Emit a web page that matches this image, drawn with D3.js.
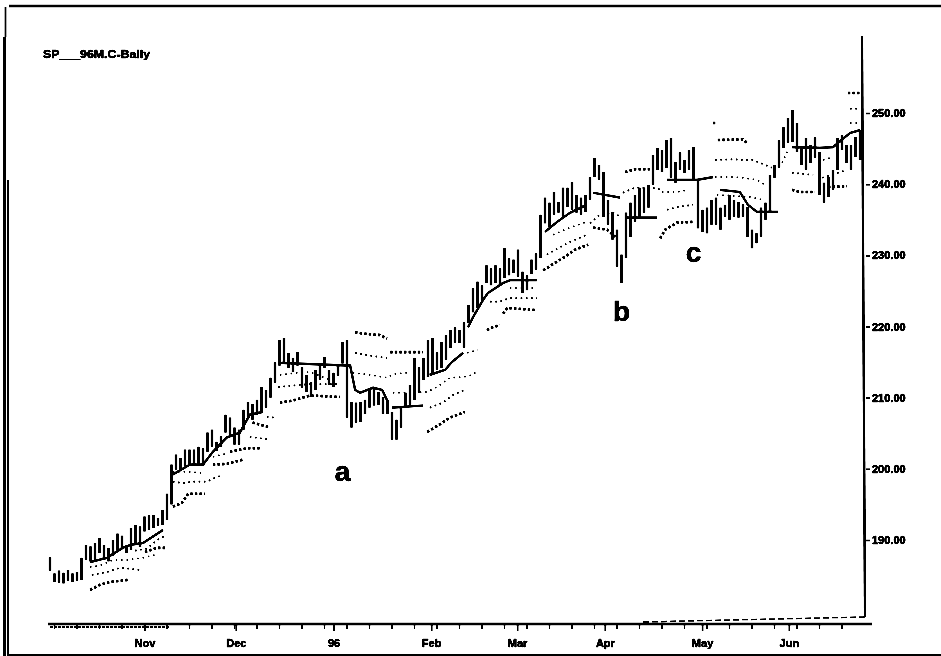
<!DOCTYPE html>
<html><head><meta charset="utf-8">
<style>html,body{margin:0;padding:0;background:#fff}svg{display:block}
text{font-family:"Liberation Sans",Arial,sans-serif;font-weight:700;fill:#000;stroke:#000;stroke-width:0.35px}</style>
<script src="https://cdn.jsdelivr.net/npm/d3@7"></script></head><body><div id="c"></div>
<script>
const title="SP___96M.C-Bally";
const priceTicks=[190,200,210,220,230,240,250];
const monthBars=[21,41.3,63,84.7,103.8,123.3,144.9,164.2];
const monthLabels=["Nov","Dec","96","Feb","Mar","Apr","May","Jun"];
const barHigh=[187.6,185.3,185.7,185.4,185.8,185.3,185.5,187.5,189.3,189.1,189.6,190.3,189.3,188.9,190.0,190.9,190.6,189.2,191.7,192.1,191.9,193.3,193.5,193.5,193.1,194.2,196.5,200.6,202.0,201.5,202.7,202.7,202.7,203.1,202.9,205.1,205.5,203.8,204.6,207.6,207.2,205.8,205.5,208.3,209.4,209.1,209.7,211.5,211.1,212.8,215.0,218.1,218.4,216.3,215.6,216.4,214.3,213.2,212.2,213.9,214.6,215.7,213.9,213.5,214.6,217.8,218.1,209.4,209.3,209.4,209.7,211.1,211.4,210.8,210.1,209.7,208.0,206.9,208.6,210.7,211.8,215.6,214.3,215.6,218.1,218.4,216.4,217.8,218.8,219.5,219.9,219.5,220.6,223.0,225.4,226.3,225.8,228.6,228.2,228.6,228.2,231.0,229.6,229.4,230.8,227.7,227.2,229.4,230.3,235.7,238.1,237.4,238.9,237.5,239.5,239.5,240.3,238.5,238.1,238.5,241.0,243.7,242.7,241.7,237.8,236.1,233.6,230.1,236.0,237.4,238.5,239.5,239.5,239.9,244.1,245.1,244.8,246.2,246.5,243.1,244.5,243.4,244.8,245.2,240.6,236.4,236.7,237.8,238.1,236.7,237.1,238.5,237.8,237.5,237.2,236.8,233.6,233.1,236.7,237.4,241.3,242.7,246.2,248.0,249.3,250.4,248.6,245.2,246.5,245.5,246.6,244.5,240.2,241.0,242.0,246.5,246.9,245.5,245.5,246.6,247.6];
const barLow=[185.7,184.1,184.0,183.9,184.3,184.1,184.3,184.4,187.2,187.0,187.2,188.2,187.2,187.0,187.8,188.6,188.8,188.2,188.6,189.6,189.0,191.2,191.4,191.7,192.0,192.1,192.8,195.0,199.9,199.7,200.4,200.6,200.4,200.6,200.4,202.4,203.1,202.5,203.1,205.1,204.8,203.4,203.4,205.5,207.2,206.9,207.6,208.0,208.6,210.0,212.1,214.5,214.9,214.2,213.6,214.5,211.4,210.8,210.1,211.1,212.5,214.2,211.8,211.5,213.1,214.8,207.2,205.8,206.5,206.6,207.7,208.6,208.9,209.0,207.7,207.7,204.1,204.1,205.8,208.6,209.0,209.7,210.7,212.5,212.9,213.2,213.9,214.2,215.3,217.0,217.7,217.7,217.0,220.5,222.0,222.6,223.7,226.1,225.8,226.1,225.8,226.8,227.2,227.5,227.0,224.7,225.1,227.4,228.0,229.6,234.5,234.0,235.7,236.0,235.4,236.8,236.4,236.0,235.7,236.1,237.8,241.0,240.6,235.4,234.3,232.2,228.4,226.1,229.6,232.6,234.7,235.4,236.0,236.7,239.9,242.0,241.7,242.3,240.9,240.2,242.0,241.6,242.0,240.6,233.8,233.3,233.1,234.3,234.3,233.6,235.4,235.0,235.4,235.3,235.4,232.6,231.0,231.7,232.6,235.0,236.1,240.9,242.3,245.1,245.8,245.9,244.5,242.7,242.0,243.0,243.7,238.5,237.4,238.2,239.2,242.0,244.8,243.0,242.0,243.8,243.4];
const centerLine=[[8.9,186.9],[12.7,187.5],[16.2,188.9],[17.8,189.3],[20.7,189.6],[25.1,191.4],null,
[27.3,199.2],[31.1,200.6],[34,200.6],[36.2,202.4],[39.3,204.4],[42.2,205.1],[44.4,207.6],[47.3,208.0],null,
[51,214.9],[66.7,214.5],[67.8,211.1],[68.9,210.7],[71.8,211.4],[73.8,211.1],[75.1,209.4],null,
[76,208.6],[82.9,208.9],null,[84.4,213.2],[87.8,213.9],[89.3,215.0],[91.8,216.3],null,
[92.9,219.9],[94,221.3],[96.2,223.7],[97.3,224.7],[100.7,226.1],[102.2,226.5],[108.2,226.5],null,
[110,233.3],[112.7,234.7],[115.6,236.0],[119.3,237.1],null,[120.7,238.8],[126.7,238.1],null,
[127.8,235.3],[134.9,235.3],null,[137.1,240.6],[143.8,240.6],[147.3,241.0],null,
[148.9,239.2],[153.3,238.9],[155.1,237.1],[157.1,236.1],[161.8,236.1],null,
[164.9,245.2],[171.1,245.1],[174,245.2],[177.8,247.2],[180,247.6]];
const bandOuter=[[8.9,183.0],[11.1,183.7],[13.3,184.1],[17.3,184.4],null,[21.1,188.3],[23.8,188.9],[25.6,188.9],null,
[27.3,194.7],[29.3,195.2],[30.7,196.5],[34.4,196.5],null,[36.2,200.6],[39.3,200.7],[42.9,201.3],null,
[40,202.4],[43.8,202.9],[46.7,202.9],null,[45,206.5],[48.9,205.8],null,[51.1,209.3],[54,209.6],[57.8,210.3],[64.4,210.1],null,
[67.8,219.2],[69.6,219.0],[73.3,218.8],[74.9,218.3],null,[75.6,216.4],[82.9,216.4],null,
[83.8,205.2],[86,206.0],[88.9,207.2],[92.2,208.0],null,[97.1,219.5],[98.4,219.9],[100,220.2],null,
[100.7,221.8],[101.6,222.6],[108.2,222.3],null,[109.6,227.9],[114.4,229.8],[116.7,230.8],[119.6,231.5],null,
[120.7,233.9],[123.8,233.6],[125.6,232.6],null,[127.8,241.7],[130,242.1],[133.3,242.1],null,
[135.6,232.4],[136.7,233.6],[139.3,234.6],[142.9,234.7],null,[147.3,248.6],[147.9,248.6],null,[148.4,246.2],[154,246.3],[154.9,245.8],null,
[164.9,239.2],[166.7,238.9],[170,238.9],null,[172.9,239.6],[177.1,239.7],null,[177.3,252.8],[180,252.8]];
const bandMiddle=[[9.3,185.1],[12.7,185.5],[15.6,186.1],[20,185.8],null,[18.9,188.5],[21.6,188.8],[23.8,190.0],[25.6,190.6],null,
[27.3,198.2],[29.6,198.0],[31.6,198.2],[34.9,198.2],[37.1,198.9],[38.2,199.0],null,[44.4,204.5],[48.9,204.1],null,[48.2,207.3],[50,207.2],null,
[50.7,211.5],[55.6,211.8],[57.8,211.9],[64.4,211.9],null,[67.8,216.3],[71.1,215.9],[74.9,215.6],null,
[84.4,208.6],[87.3,209.3],[89.6,210.4],[92.2,211.1],null,[97.8,223.5],[100,223.5],[102.2,224.0],[108.2,224.0],null,
[110.4,230.1],[114.9,231.7],[119.3,232.9],null,[120,234.5],[122.2,235.7],[125.1,236.0],[127.1,235.3],null,
[127.3,238.8],[130,239.5],[133.8,239.5],[136,239.2],null,[137.1,236.4],[139.6,236.8],[142.9,237.1],null,
[147.8,243.4],[151.8,243.5],[154,243.4],[156.2,243.4],[157.8,243.0],[160.4,242.3],null,
[164.9,241.6],[169.6,241.3],null,[171.6,240.9],[177.1,242.0],null,[177.8,250.6],[179.6,250.6]];
const bandInner=[[8.9,186.2],[11.1,186.4],[14,187.2],[17.1,187.2],[20.7,187.5],[23.3,187.9],null,
[27.3,199.6],[30.4,199.6],[34,199.4],null,[36.2,201.7],[39.5,202.2],null,[51.1,213.2],[54.9,213.5],[57.8,213.6],[63.8,212.1],null,
[67.3,213.5],[71.1,213.2],[74.9,212.8],[76.2,213.3],[79.3,213.5],null,
[76.2,210.7],[79.3,210.7],[83.8,210.8],[86,211.5],[88.9,212.8],[91.8,212.9],[94,213.2],[95.1,213.9],null,
[92.7,216.3],[95.1,216.7],null,[102.2,225.4],[108.2,225.4],null,[111.8,232.9],[115.6,233.9],[119.3,234.7],null,
[136,238.9],[139.3,238.9],[141.8,239.2],null,[147.8,241.0],[151.8,241.0],[154,240.9],[157.1,240.6],[158.9,239.9],null,
[148.2,238.5],[155.6,238.2],[158.4,237.8],null,[162.7,243.0],[164,244.8],null,[171.8,243.4],[174,243.8],null,[177.8,248.6],[180,248.6]];
const annotations=[["a",65,198.3],["b",127,220.8],["c",143,229]];

const W=941,H=656;
const x=d3.scaleLinear().domain([0,180]).range([50,860]);
const y=d3.scaleLinear().domain([190,250]).range([540,113]);
const svg=d3.select("#c").append("svg").attr("width",W).attr("height",H);
const f=svg.append("defs").append("filter").attr("id","fax").attr("x","0").attr("y","0").attr("width",W).attr("height",H).attr("filterUnits","userSpaceOnUse");
f.append("feGaussianBlur").attr("stdDeviation",0.55);
f.append("feComponentTransfer").append("feFuncA").attr("type","linear").attr("slope",2.6).attr("intercept",-0.45);
svg.append("rect").attr("width",W).attr("height",H).attr("fill","#fff");
const g=svg.append("g").attr("filter","url(#fax)");

// scan frame
const frame=[[9,6,941,6,2.6],[5.5,7,5.5,37,1.6],[4.5,37,4.5,656,3],[8,180,8,656,1.6],[9,655,941,655,1.6]];
g.append("g").selectAll("line").data(frame).join("line").attr("x1",d=>d[0]).attr("y1",d=>d[1]).attr("x2",d=>d[2]).attr("y2",d=>d[3]).attr("stroke","#000").attr("stroke-width",d=>d[4]);

// bars
g.append("g").selectAll("line").data(barHigh).join("line")
 .attr("x1",(d,i)=>x(i)).attr("x2",(d,i)=>x(i)).attr("y1",d=>y(d)).attr("y2",(d,i)=>y(barLow[i]))
 .attr("stroke","#000").attr("stroke-width",2.4);

const ln=d3.line().defined(d=>d).x(d=>x(d[0])).y(d=>y(d[1]));
g.append("path").datum(centerLine).attr("d",ln).attr("fill","none").attr("stroke","#000").attr("stroke-width",2.2);
[[bandOuter,2.6,"2.4 2.2"],[bandMiddle,1.7,"1.6 3.6"],[bandInner,1.5,"1.4 4"]].forEach(([b,w,dash])=>{
 g.append("path").datum(b).attr("d",ln).attr("fill","none").attr("stroke","#000").attr("stroke-width",w).attr("stroke-dasharray",dash);
});

// axes
const axR=g.append("g").attr("transform","translate(866,0)").call(d3.axisRight(y).tickValues(priceTicks).tickSize(4).tickPadding(2).tickFormat(d3.format(".2f")));
axR.select(".domain").remove();
axR.selectAll("line").attr("stroke","#000").attr("stroke-width",1.5);
axR.selectAll("text").style("font-size","11px").style("font-weight","700").attr("fill","#000");
const axB=g.append("g").attr("transform","translate(0,625)").call(d3.axisBottom(x).tickValues(monthBars).tickSize(6).tickPadding(8).tickFormat((d,i)=>monthLabels[i]));
axB.select(".domain").remove();
axB.selectAll("line").attr("stroke","#000").attr("stroke-width",1.5);
axB.selectAll("text").style("font-size","11px").style("font-weight","700").attr("fill","#000");
g.append("g").selectAll("line").data(d3.range(1,180,5)).join("line").attr("x1",d=>x(d)).attr("x2",d=>x(d)).attr("y1",625).attr("y2",629).attr("stroke","#000").attr("stroke-width",1.2);
g.append("line").attr("x1",862).attr("y1",36).attr("x2",865).attr("y2",617).attr("stroke","#000").attr("stroke-width",2.2);
g.append("line").attr("x1",865).attr("y1",617).attr("x2",640).attr("y2",622).attr("stroke","#000").attr("stroke-width",1.2).attr("stroke-dasharray","6 3");
g.append("line").attr("x1",48).attr("y1",624).attr("x2",872).attr("y2",624).attr("stroke","#000").attr("stroke-width",2.6);
g.append("line").attr("x1",50).attr("y1",627).attr("x2",170).attr("y2",627).attr("stroke","#000").attr("stroke-width",1.4).attr("stroke-dasharray","3 1");

// title and annotations
g.append("text").attr("x",43).attr("y",58).attr("textLength",107).attr("lengthAdjust","spacingAndGlyphs").style("font-size","11.5px").text(title);
g.append("g").selectAll("text").data(annotations).join("text").attr("x",d=>x(d[1])).attr("y",d=>y(d[2])).attr("text-anchor","middle").style("font-size","28px").text(d=>d[0]);
</script></body></html>
